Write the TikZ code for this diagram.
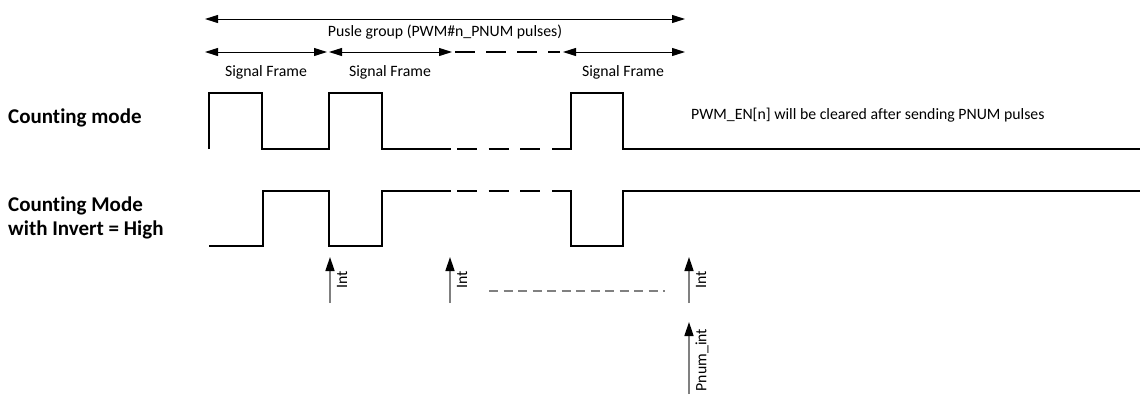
\documentclass[tikz,border=0pt]{standalone}
\usepackage{fontspec}
\setmainfont{Carlito}[Ligatures=NoCommon]
\usetikzlibrary{arrows.meta}
\definecolor{gray50}{RGB}{128,128,128}
\begin{document}
\begin{tikzpicture}[x=1pt,y=-1pt,
  wave/.style={line width=2.6pt, line join=miter, black},
  wavedash/.style={line width=2.6pt, black, dash pattern=on 20pt off 11.5pt},
  dim/.style={line width=1pt, {Triangle[length=13pt,width=8pt]}-{Triangle[length=13pt,width=8pt]}},
  intarrow/.style={line width=1.6pt, draw=gray50, -{Triangle[length=14pt,width=9pt,color=black]}},
  small/.style={font=\fontsize{15.8}{18}\selectfont, inner sep=0pt},
  big/.style={font=\fontsize{21}{25}\selectfont\bfseries, inner sep=0pt},
  graydash/.style={gray50, line width=1.4pt, dash pattern=on 9pt off 5.5pt},
]
\useasboundingbox (0,0) rectangle (1140,394);

% top dimension arrows
\coordinate (gL) at (205,19);
\coordinate (gR) at (685,19);
\draw[dim] (gL) -- (gR);
\node[small, anchor=base] (glabel) at (445,36) {Pusle group (PWM\#n\_PNUM pulses)};

\coordinate (f1a) at (205,52); \coordinate (f1b) at (327,52);
\coordinate (f2a) at (329,52); \coordinate (f2b) at (452,52);
\coordinate (f3a) at (563,52); \coordinate (f3b) at (685,52);
\coordinate (fda) at (455,52); \coordinate (fdb) at (560,52);
\draw[dim] (f1a) -- (f1b);
\draw[dim] (f2a) -- (f2b);
\draw[dim] (f3a) -- (f3b);
\draw[line width=2.6pt, dash pattern=on 20pt off 11pt] (fda) -- (fdb);
\node[small, anchor=base] (sf1) at (266,76) {Signal Frame};
\node[small, anchor=base] (sf2) at (390,76) {Signal Frame};
\node[small, anchor=base] (sf3) at (623,76) {Signal Frame};

% labels
\node[big, anchor=base west] (cm1) at (8,123) {Counting mode};
\node[big, anchor=base west] (cm2) at (8,211) {Counting Mode};
\node[big, anchor=base west] (cm3) at (8,235) {with Invert = High};
\node[small, anchor=base west] (note) at (691,119) {PWM\_EN[n] will be cleared after sending PNUM pulses};

% counting mode waveform
\draw[wave] (209,149) -- (209,93) -- (262,93) -- (262,149) -- (329,149) -- (329,93) -- (382,93) -- (382,149) -- (451,149);
\draw[wavedash] (457,149) -- (541,149);
\draw[wave] (552,149) -- (571,149) -- (571,93) -- (623,93) -- (623,149) -- (1140,149);

% inverted waveform
\draw[wave] (209,246) -- (263,246) -- (263,191) -- (329,191) -- (329,246) -- (382,246) -- (382,191) -- (451,191);
\draw[wavedash] (457,191) -- (541,191);
\draw[wave] (552,191) -- (571,191) -- (571,246) -- (623,246) -- (623,191) -- (1140,191);

% interrupts
\coordinate (i1b) at (330,303); \coordinate (i1t) at (330,257);
\coordinate (i2b) at (450,303); \coordinate (i2t) at (450,257);
\coordinate (i3b) at (689,303); \coordinate (i3t) at (689,257);
\coordinate (pb) at (689,394); \coordinate (pt) at (689,322);
\draw[intarrow] (i1b) -- (i1t);
\draw[intarrow] (i2b) -- (i2t);
\draw[intarrow] (i3b) -- (i3t);
\draw[intarrow] (pb) -- (pt);
\node[small, rotate=90] (il1) at (342,280) {Int};
\node[small, rotate=90] (il2) at (462,280) {Int};
\node[small, rotate=90] (il3) at (701,280) {Int};
\node[small, rotate=90] (pl) at (702,360) {Pnum\_int};
\coordinate (da) at (489,291); \coordinate (db) at (665,291);
\draw[graydash] (da) -- (db);
\end{tikzpicture}
\end{document}
